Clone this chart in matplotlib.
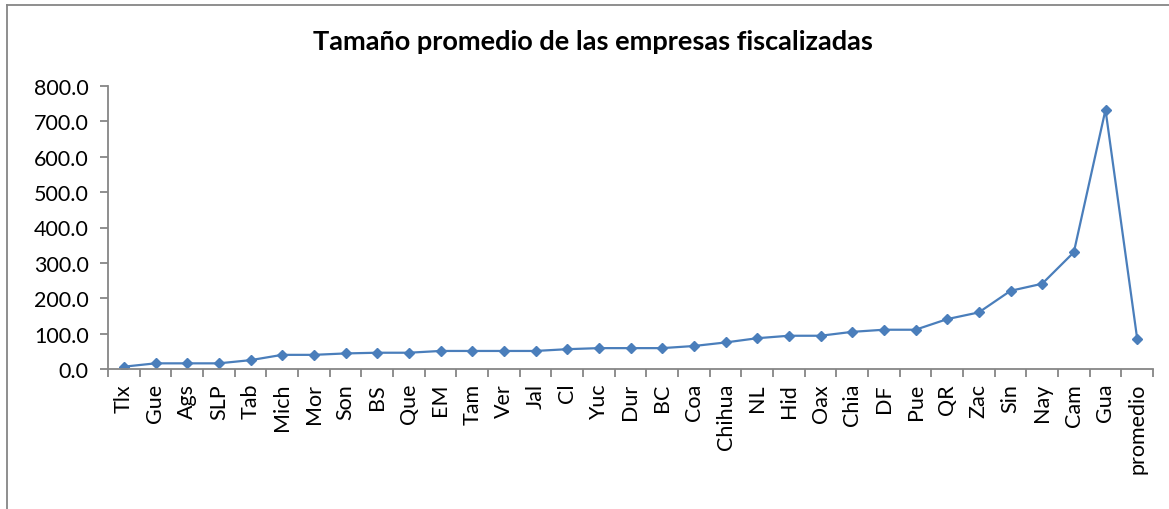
import matplotlib.pyplot as plt
import numpy as np
from matplotlib.lines import Line2D

estados = ["Tlx", "Gue", "Ags", "SLP", "Tab", "Mich", "Mor", "Son", "BS", "Que",
           "EM", "Tam", "Ver", "Jal", "Cl", "Yuc", "Dur", "BC", "Coa", "Chihua",
           "NL", "Hid", "Oax", "Chia", "DF", "Pue", "QR", "Zac", "Sin", "Nay",
           "Cam", "Gua", "promedio"]
tamano = [6.5, 16, 16, 16, 25, 40, 40, 44, 46, 46,
          51, 51, 51, 51, 56, 59, 59, 59, 65, 75,
          87, 94, 94, 105, 111, 111, 141, 160, 221, 241,
          330, 733, 86]
y_ticks = [0, 100, 200, 300, 400, 500, 600, 700, 800]

plt.rcParams['font.family'] = ['Lato', 'DejaVu Sans']

fig = plt.figure(figsize=(11.69, 5.10), dpi=100)
ax = fig.add_axes([108/1169, 1-370/510, (1153-108)/1169, (370-87)/510])

x = np.arange(len(estados))
ax.plot(x, tamano, color="#4A7EBB", linewidth=1.6, marker="D", markersize=5.5,
        markerfacecolor="#4A7EBB", markeredgecolor="#4A7EBB")

ax.set_xlim(-0.5, len(estados) - 0.5)
ax.set_ylim(0, 800)
ax.set_yticks(y_ticks)
ax.set_yticklabels([f"{v:.1f}" for v in y_ticks], fontsize=15.5)

ax.set_xticks(x)
ax.set_xticklabels(estados, rotation=90, fontsize=15.5)
ax.set_xticks(np.arange(-0.5, len(estados)), minor=True)
ax.tick_params(axis="x", which="major", length=0, pad=10)
ax.tick_params(axis="x", which="minor", length=6, width=1.3, color="#868686", direction="out")
ax.tick_params(axis="y", length=6, width=1.3, color="#868686", direction="out", pad=8)

for s in ["top", "right"]:
    ax.spines[s].set_visible(False)
for s in ["left", "bottom"]:
    ax.spines[s].set_color("#868686")
    ax.spines[s].set_linewidth(1.3)

fig.suptitle("Tamaño promedio de las empresas fiscalizadas", x=593/1169, y=1-42/510,
             va="center", fontsize=19.5, fontweight="bold")

# outer frame
fig.add_artist(Line2D([7/1169, 1.0], [1-6/510, 1-6/510], color="#868686", linewidth=1.3))
fig.add_artist(Line2D([7/1169, 7/1169], [0, 1-6/510], color="#868686", linewidth=1.3))

fig.savefig("out.png", dpi=100)
